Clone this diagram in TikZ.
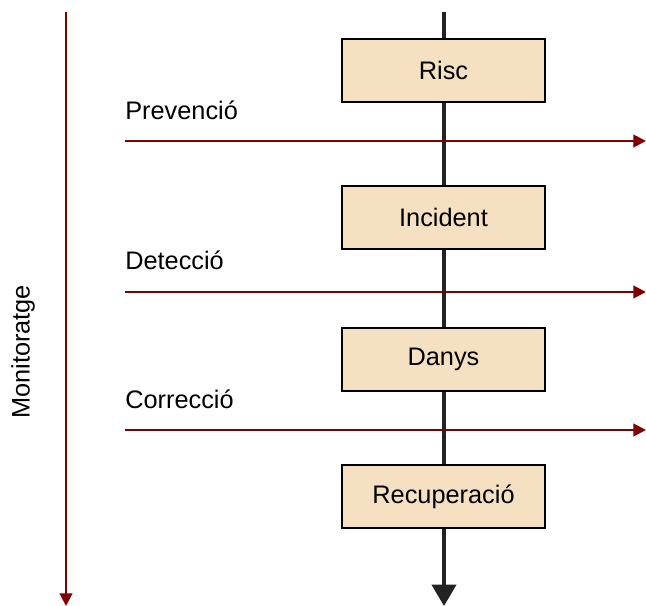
\documentclass[tikz,border=0pt]{standalone}
\usepackage{fontspec}
\setmainfont{Liberation Sans}
\usetikzlibrary{arrows.meta}
\definecolor{darkred}{HTML}{800000}
\definecolor{boxfill}{HTML}{F5E1C1}
\definecolor{axis}{HTML}{222222}
\begin{document}
\begin{tikzpicture}[x=0.75pt,y=-0.75pt,
  stagebox/.style={draw=black,line width=1.5pt,fill=boxfill,minimum width=152pt,minimum height=47pt,inner sep=0pt,font=\fontsize{19}{22}\selectfont},
  lbl/.style={anchor=base west,inner sep=0pt,font=\fontsize{19}{22}\selectfont},
  redarrow/.style={draw=darkred,line width=1.5pt,-{Triangle[length=9.5pt,width=9.5pt]}},
  mainarrow/.style={draw=axis,line width=3pt,-{Triangle[length=16pt,width=18pt]}}]
\useasboundingbox (0,0) rectangle (646,606);
% main axis
\coordinate (top) at (444,12);
\coordinate (bot) at (444,606);
\draw[mainarrow] (top) -- (bot);
% monitoring axis
\coordinate (mt) at (66,12);
\coordinate (mb) at (66,606);
\draw[redarrow] (mt) -- (mb);
\node[rotate=90,inner sep=0pt,font=\fontsize{19}{22}\selectfont] (mon) at (23,352) {Monitoratge};
% red horizontal arrows
\coordinate (p1) at (125,141); \coordinate (p2) at (646,141);
\coordinate (d1) at (125,292); \coordinate (d2) at (646,292);
\coordinate (c1) at (125,430); \coordinate (c2) at (646,430);
\draw[redarrow] (p1) -- (p2);
\draw[redarrow] (d1) -- (d2);
\draw[redarrow] (c1) -- (c2);
\node[lbl] (prev) at (125,120) {Prevenció};
\node[lbl] (det) at (125,269) {Detecció};
\node[lbl] (cor) at (125,408) {Correcció};
% boxes
\node[stagebox] (risc) at (443.5,70.5) {Risc};
\node[stagebox] (inc) at (443.5,217.5) {Incident};
\node[stagebox] (dan) at (443.5,359.5) {Danys};
\node[stagebox] (rec) at (443.5,496.5) {Recuperació};
\end{tikzpicture}
\end{document}
